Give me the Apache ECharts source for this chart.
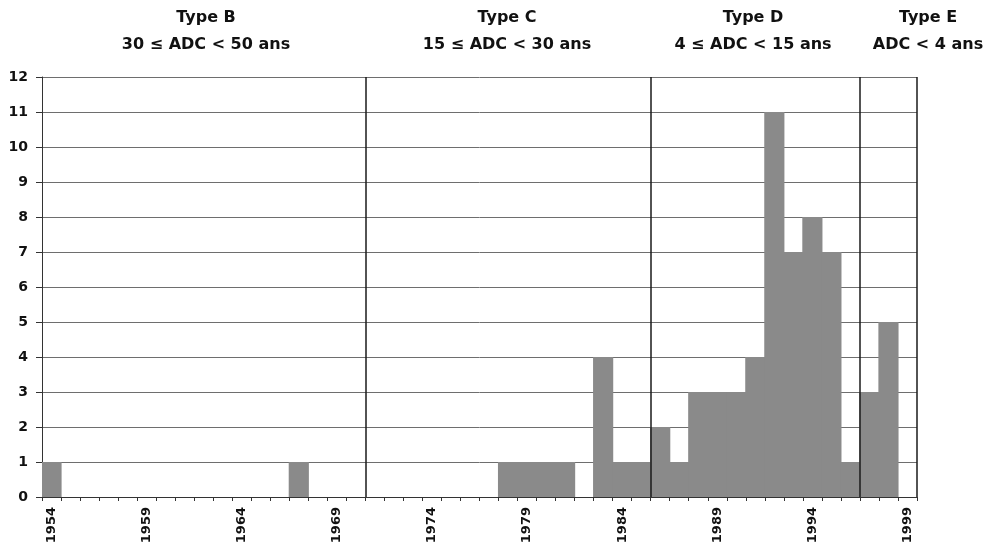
<!DOCTYPE html>
<html>
<head>
<meta charset="utf-8">
<script src="https://cdn.jsdelivr.net/npm/echarts@6/dist/echarts.min.js"></script>
<style>
html,body{margin:0;padding:0;background:#fff;}
#chart{width:990px;height:542px;}
</style>
</head>
<body>
<div id="chart"></div>
<script>
// ---- data ----
const years = ['1954','1955','1956','1957','1958','1959','1960','1961','1962','1963',
  '1964','1965','1966','1967','1968','1969','1970','1971','1972','1973',
  '1974','1975','1976','1977','1978','1979','1980','1981','1982','1983',
  '1984','1985','1986','1987','1988','1989','1990','1991','1992','1993',
  '1994','1995','1996','1997','1998','1999'];
const counts = [1,0,0,0,0,0,0,0,0,0,
  0,0,0,1,0,0,0,0,0,0,
  0,0,0,0,1,1,1,1,0,4,
  1,1,2,1,3,3,3,4,11,7,
  8,7,1,3,5,0];
const groupNames = ['Type B','Type C','Type D','Type E'];
const groupRanges = ['30 \u2264 ADC < 50 ans','15 \u2264 ADC < 30 ans','4 \u2264 ADC < 15 ans','ADC < 4 ans'];
const groupBoundaries = [17, 32, 43, 46]; // separator after N categories
const yTicks = [0,1,2,3,4,5,6,7,8,9,10,11,12];

// ---- layout / style ----
const titleCenters = [206, 507, 753, 928];
const FONT = '"DejaVu Sans", "Liberation Sans", Arial, sans-serif';
const BAR = '#8a8a8a';

const chart = echarts.init(document.getElementById('chart'), null, {renderer:'canvas'});

const graphics = [];
groupNames.forEach((n, i) => {
  graphics.push({type:'text', x:titleCenters[i], y:18, style:{text:n, textAlign:'center', textVerticalAlign:'middle', font:'bold 16px ' + FONT, fill:'#111'}});
  graphics.push({type:'text', x:titleCenters[i], y:45, style:{text:groupRanges[i], textAlign:'center', textVerticalAlign:'middle', font:'bold 16px ' + FONT, fill:'#111'}});
});

chart.setOption({
  animation:false,
  backgroundColor:'#fff',
  grid:{left:42, right:73, top:77, bottom:45, containLabel:false, outerBoundsMode:'none'},
  graphic:graphics,
  xAxis:[{
    type:'category', data:years, boundaryGap:true,
    axisLine:{show:true, lineStyle:{color:'#333', width:1}},
    axisTick:{show:true, interval:0, length:4, lineStyle:{color:'#333'}},
    axisLabel:{interval:4, rotate:90, margin:10, color:'#111', fontWeight:'bold', fontSize:13, fontFamily:FONT},
    splitLine:{show:false}
  },{
    type:'value', min:0, max:years.length, show:false
  }],
  yAxis:{
    type:'value', min:yTicks[0], max:yTicks[yTicks.length-1], interval:1,
    axisLine:{show:true, lineStyle:{color:'#333', width:1}},
    axisTick:{show:true, length:6, lineStyle:{color:'#333'}},
    axisLabel:{margin:14, color:'#111', fontWeight:'bold', fontSize:14, fontFamily:FONT},
    splitLine:{show:true, lineStyle:{color:'#6e6e6e', width:1}}
  },
  series:[{
    type:'bar', data:counts, xAxisIndex:0, barWidth:'106%',
    itemStyle:{color:BAR, borderWidth:0}
  },{
    type:'line', xAxisIndex:1, data:[[0,0]], showSymbol:false, lineStyle:{opacity:0}, silent:true,
    markLine:{
      silent:true, symbol:['none','none'], label:{show:false},
      lineStyle:{color:'#1a1a1a', width:1.5, type:'solid'},
      data:groupBoundaries.map(b => ({xAxis:b}))
    }
  }]
});
</script>
</body>
</html>
